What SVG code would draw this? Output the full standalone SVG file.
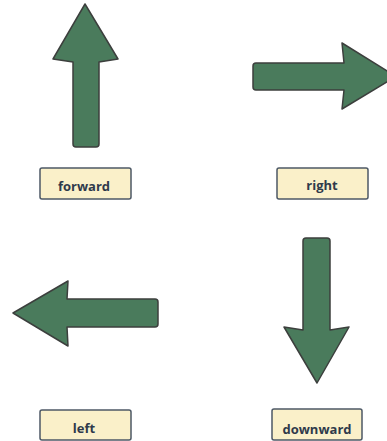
<svg xmlns="http://www.w3.org/2000/svg" width="387" height="441" viewBox="0 0 387 441">
<style>
.arrow{fill:#4a7b5c;stroke:#3c3f3d;stroke-width:1.5;stroke-linejoin:round}
.label rect{fill:#faf0c9;stroke:#4d5866;stroke-width:1.5}
.label text{font-family:"Open Sans","Liberation Sans",sans-serif;font-weight:bold;font-size:13px;fill:#2f3a4b;text-anchor:middle}
</style>
<rect width="387" height="441" fill="#ffffff"/>
<g id="connectors"></g>
<g id="node-forward-arrow">
<path class="arrow" d="M85,4 L118,59 L99,62 L99,144 Q99,147 96,147 L76,147 Q73,147 73,144 L73,62 L53,59 Z"/>
</g>
<g id="node-forward" class="label">
<rect x="40" y="168" width="91" height="31" rx="2"/>
<text x="84" y="191">forward</text>
</g>
<g id="node-right-arrow">
<path class="arrow" d="M396,76.5 L342,43 L344,63 L256,63 Q253,63 253,66 L253,87 Q253,90 256,90 L344,90 L342,109 Z"/>
</g>
<g id="node-right" class="label">
<rect x="277" y="168" width="91" height="31" rx="2"/>
<text x="322" y="190">right</text>
</g>
<g id="node-left-arrow">
<path class="arrow" d="M13,313 L68,281 L67,299 L155,299 Q158,299 158,302 L158,324 Q158,327 155,327 L67,327 L68,346 Z"/>
</g>
<g id="node-left" class="label">
<rect x="40" y="410" width="91" height="30" rx="2"/>
<text x="84" y="433">left</text>
</g>
<g id="node-downward-arrow">
<path class="arrow" d="M317,383 L349,327 L330,330 L330,241 Q330,238 327,238 L306,238 Q303,238 303,241 L303,330 L284,327 Z"/>
</g>
<g id="node-downward" class="label">
<rect x="272" y="409" width="90" height="31" rx="2"/>
<text x="317" y="434">downward</text>
</g>
</svg>
